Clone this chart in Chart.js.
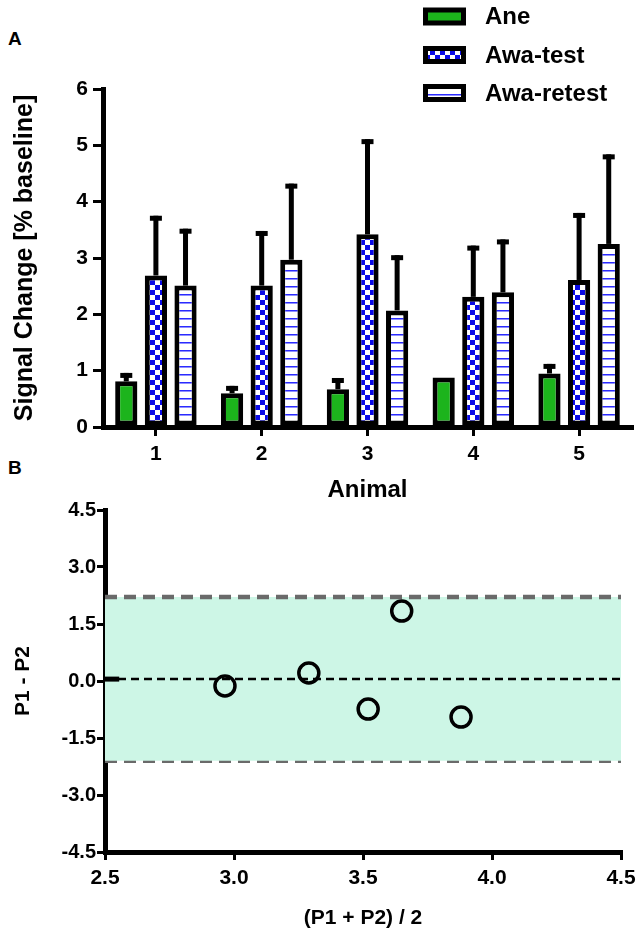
<!DOCTYPE html>
<html>
<head>
<meta charset="utf-8">
<script src="https://cdn.jsdelivr.net/npm/chart.js@4.4.1/dist/chart.umd.min.js"></script>
<style>
  body { margin: 0; background: #fff; width: 642px; height: 931px; position: relative; overflow: hidden; }
  canvas { position: absolute; left: 0; }
  #chartA { top: 0; }
  #chartB { top: 455px; }
  .panel { position: absolute; left: 8px; font: bold 19px "Liberation Sans", Arial, sans-serif; line-height: 19px; }
</style>
</head>
<body>
<div class="panel" style="top:29px">A</div>
<div class="panel" style="top:458px">B</div>
<canvas id="chartA" width="642" height="505"></canvas>
<canvas id="chartB" width="642" height="476"></canvas>
<script>
// panel A data
var animals = ['1', '2', '3', '4', '5'];
var aneMean = [0.81, 0.60, 0.67, 0.88, 0.95];
var aneErr = [0.15, 0.13, 0.20, 0.00, 0.17];
var testMean = [2.69, 2.51, 3.42, 2.31, 2.61];
var testErr = [1.06, 0.97, 1.69, 0.91, 1.19];
var retestMean = [2.51, 2.97, 2.07, 2.39, 3.25];
var retestErr = [1.01, 1.35, 0.98, 0.94, 1.59];
var seriesNames = ['Ane', 'Awa-test', 'Awa-retest'];

// panel B data
var meanP = [2.965, 3.29, 3.52, 3.65, 3.88];
var diffP = [-0.13, 0.21, -0.74, 1.84, -0.95];
var upperLoA = 2.21;
var lowerLoA = -2.10;
var bias = 0.05;
var xTicksB = [2.5, 3.0, 3.5, 4.0, 4.5];
var yTicksB = [-4.5, -3.0, -1.5, 0.0, 1.5, 3.0, 4.5];

Chart.defaults.font.family = '"Liberation Sans", Arial, sans-serif';
Chart.defaults.font.weight = 'bold';
Chart.defaults.color = '#000';

var green = '#1cb41c';

function checkerPattern() {
  var c = document.createElement('canvas');
  c.width = 10; c.height = 10;
  var g = c.getContext('2d');
  g.fillStyle = '#fff'; g.fillRect(0, 0, 10, 10);
  g.fillStyle = '#0a0ae6';
  g.fillRect(0, 0, 5, 5);
  g.fillRect(5, 5, 5, 5);
  return g.createPattern(c, 'repeat');
}

function stripePattern() {
  var c = document.createElement('canvas');
  c.width = 8; c.height = 8;
  var g = c.getContext('2d');
  g.fillStyle = '#fff'; g.fillRect(0, 0, 8, 8);
  g.fillStyle = '#2a2aff'; g.fillRect(0, 6, 8, 1);
  g.fillStyle = '#8f8fff'; g.fillRect(0, 7, 8, 1);
  return g.createPattern(c, 'repeat');
}

var fills = [green, checkerPattern(), stripePattern()];

var errorBars = {
  id: 'errorBars',
  afterDatasetsDraw: function(chart) {
    var ctx = chart.ctx;
    var y = chart.scales.y;
    ctx.save();
    ctx.fillStyle = '#000';
    chart.data.datasets.forEach(function(ds, i) {
      var meta = chart.getDatasetMeta(i);
      meta.data.forEach(function(bar, j) {
        if (!ds.errors[j]) return;
        var top = y.getPixelForValue(ds.data[j] + ds.errors[j]);
        var base = y.getPixelForValue(ds.data[j]);
        ctx.fillRect(bar.x - 2.5, top, 5, base - top);
        ctx.fillRect(bar.x - 6, top, 12, 5);
      });
    });
    ctx.restore();
  }
};

var boxLegend = {
  id: 'boxLegend',
  afterDraw: function(chart) {
    var ctx = chart.ctx;
    var rows = [16.5, 55, 93];
    ctx.save();
    seriesNames.forEach(function(name, i) {
      var cy = rows[i];
      ctx.fillStyle = '#000';
      ctx.fillRect(423, cy - 9, 43, 18);
      ctx.fillStyle = fills[i];
      ctx.fillRect(428, cy - 4, 33, 8);
      ctx.fillStyle = '#000';
      ctx.font = 'bold 24px "Liberation Sans", Arial, sans-serif';
      ctx.textBaseline = 'middle';
      ctx.fillText(name, 485, cy + 1);
    });
    ctx.restore();
  }
};

function barSet(i, values, errs) {
  return {
    label: seriesNames[i], data: values, errors: errs,
    backgroundColor: fills[i], borderColor: '#000', borderWidth: 5, borderSkipped: false
  };
}

new Chart(document.getElementById('chartA'), {
  type: 'bar',
  data: {
    labels: animals,
    datasets: [
      barSet(0, aneMean, aneErr),
      barSet(1, testMean, testErr),
      barSet(2, retestMean, retestErr)
    ]
  },
  options: {
    responsive: false,
    animation: false,
    devicePixelRatio: 1,
    categoryPercentage: 0.84,
    barPercentage: 0.75,
    layout: { padding: { top: 89, right: 10, left: 0, bottom: 0 } },
    plugins: { legend: { display: false }, tooltip: { enabled: false } },
    scales: {
      x: {
        afterFit: function(scale) { scale.height = 78; },
        border: { color: '#000', width: 5 },
        grid: { offset: false, drawOnChartArea: false, tickLength: 9, lineWidth: 3, tickWidth: 3, tickColor: '#000' },
        ticks: { font: { size: 21, weight: 'bold' }, padding: 6 },
        title: { display: true, text: 'Animal', font: { size: 24, weight: 'bold' }, padding: { top: 1, bottom: 0 } }
      },
      y: {
        min: 0,
        max: 6,
        afterFit: function(scale) { scale.width = 103; },
        border: { color: '#000', width: 5 },
        grid: { drawOnChartArea: false, tickLength: 10, lineWidth: 3, tickWidth: 3, tickColor: '#000' },
        ticks: { stepSize: 1, font: { size: 21, weight: 'bold' }, padding: 5 },
        title: { display: true, text: 'Signal Change [% baseline]', font: { size: 25, weight: 'bold' }, padding: { top: 10, bottom: 0 } }
      }
    }
  },
  plugins: [errorBars, boxLegend]
});

var pointsB = meanP.map(function(x, i) { return { x: x, y: diffP[i] }; });
var xMin = xTicksB[0], xMax = xTicksB[xTicksB.length - 1];

new Chart(document.getElementById('chartB'), {
  type: 'scatter',
  data: {
    datasets: [
      {
        data: pointsB, order: 0,
        pointRadius: 10, pointBorderWidth: 3.5,
        pointBorderColor: '#000', pointBackgroundColor: 'rgba(0,0,0,0)'
      },
      {
        data: [{ x: xMin, y: upperLoA }, { x: xMax, y: upperLoA }], order: 2,
        showLine: true, pointRadius: 0, borderColor: '#6a6a6a', borderWidth: 4.5,
        borderDash: [12, 7], fill: '+1', backgroundColor: '#cdf6e6'
      },
      {
        data: [{ x: xMin, y: lowerLoA }, { x: xMax, y: lowerLoA }], order: 3,
        showLine: true, pointRadius: 0, borderColor: '#6a6a6a', borderWidth: 4.5,
        borderDash: [12, 7], fill: false
      },
      {
        data: [{ x: xMin, y: bias }, { x: xMax, y: bias }], order: 1,
        showLine: true, pointRadius: 0, borderColor: '#000', borderWidth: 2.5,
        borderDash: [8, 5], fill: false
      },
      {
        data: [{ x: xMin, y: bias }, { x: 2.555, y: bias }], order: 1,
        showLine: true, pointRadius: 0, borderColor: '#000', borderWidth: 5, fill: false
      }
    ]
  },
  options: {
    responsive: false,
    animation: false,
    devicePixelRatio: 1,
    layout: { padding: { top: 55, right: 21, left: 0, bottom: 0 } },
    plugins: { legend: { display: false }, tooltip: { enabled: false } },
    scales: {
      x: {
        type: 'linear',
        min: xMin,
        max: xMax,
        afterFit: function(scale) { scale.height = 79; },
        afterBuildTicks: function(scale) { scale.ticks = xTicksB.map(function(v) { return { value: v }; }); },
        border: { color: '#000', width: 5 },
        grid: { drawOnChartArea: false, tickLength: 8, lineWidth: 3, tickWidth: 3, tickColor: '#000' },
        ticks: { font: { size: 21, weight: 'bold' }, padding: 6, callback: function(v) { return v.toFixed(1); } },
        title: { display: true, text: '(P1 + P2) / 2', font: { size: 21, weight: 'bold' }, padding: { top: 5, bottom: 0 } }
      },
      y: {
        min: yTicksB[0],
        max: yTicksB[yTicksB.length - 1],
        afterFit: function(scale) { scale.width = 105; },
        afterBuildTicks: function(scale) { scale.ticks = yTicksB.map(function(v) { return { value: v }; }); },
        border: { color: '#000', width: 5 },
        grid: { drawOnChartArea: false, tickLength: 8, lineWidth: 3, tickWidth: 3, tickColor: '#000' },
        ticks: { font: { size: 20, weight: 'bold' }, padding: 1, callback: function(v) { return v.toFixed(1); } },
        title: { display: true, text: 'P1 - P2', font: { size: 21, weight: 'bold' }, padding: { top: 11, bottom: 0 } }
      }
    }
  }
});
</script>
</body>
</html>
